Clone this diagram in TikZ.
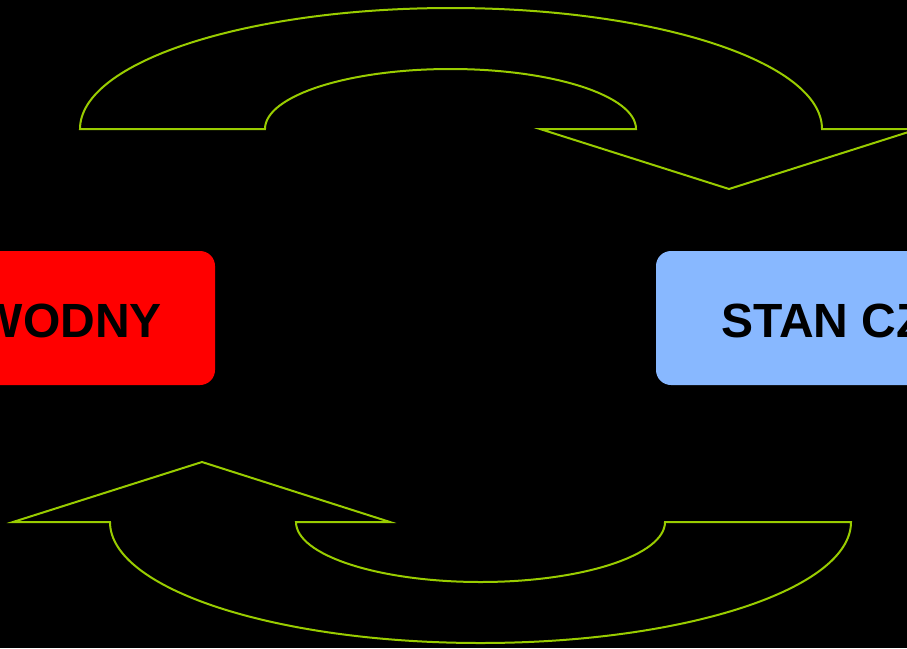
\documentclass[tikz,border=0pt]{standalone}
\usepackage{fontspec}
\setmainfont{Liberation Sans}
\definecolor{arrowgreen}{HTML}{99CC00}
\definecolor{boxblue}{HTML}{88B8FF}
\definecolor{boxred}{HTML}{FF0000}
\begin{document}
\begin{tikzpicture}[x=1pt,y=-1pt,
  box/.style={rounded corners=15pt, inner sep=0pt, draw=none},
  lbl/.style={inner sep=0pt, font=\bfseries\fontsize{48}{48}\selectfont, text=black},
  curved/.style={draw=arrowgreen, line width=2pt, line join=miter}]
\useasboundingbox (0,0) rectangle (907,648);
\clip (0,0) rectangle (907,648);
\fill[black] (0,0) rectangle (907,648);
% boxes
\node[box, fill=boxred, minimum width=260pt, minimum height=134pt] (leftbox) at (85,318) {};
\node[box, fill=boxblue, minimum width=300pt, minimum height=134pt] (rightbox) at (806,318) {};
\node[lbl, anchor=base east] (lefttext) at (162,337) {WODNY};
\node[lbl, anchor=base west] (righttext) at (721,337) {STAN CZ};
% top curved arrow
\draw[curved] (80,129) arc[start angle=180, end angle=360, x radius=371, y radius=121]
  -- (918,129) -- (729,189) -- (540,129) -- (636,129)
  arc[start angle=0, end angle=-180, x radius=185.5, y radius=60] -- cycle;
% bottom curved arrow
\draw[curved] (851,522) arc[start angle=0, end angle=180, x radius=370.5, y radius=121]
  -- (13,522) -- (202,462) -- (390,522) -- (296,522)
  arc[start angle=180, end angle=0, x radius=184.5, y radius=60] -- cycle;
\end{tikzpicture}
\end{document}
